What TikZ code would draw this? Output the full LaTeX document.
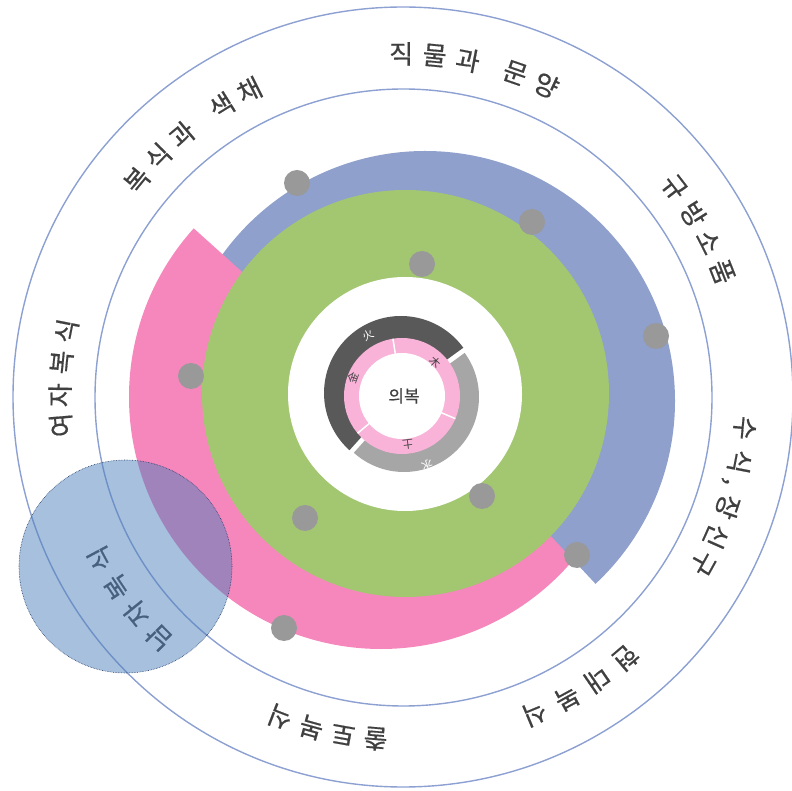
\documentclass[tikz,border=0pt]{standalone}
\usepackage{fontspec}
\setmainfont{Noto Sans CJK KR}
\newfontfamily\heavyk[FakeBold=0.6]{Noto Sans CJK KR}
\usetikzlibrary{calc}
\definecolor{ringlinec}{RGB}{140,160,210}
\definecolor{bandblue}{RGB}{142,160,203}
\definecolor{bandpink}{RGB}{245,135,188}
\definecolor{bandgreen}{RGB}{163,199,113}
\definecolor{lightpink}{RGB}{249,178,216}
\definecolor{darkgrey}{RGB}{89,89,89}
\definecolor{midgrey}{RGB}{166,166,166}
\definecolor{dotgrey}{RGB}{153,153,153}
\definecolor{txt}{RGB}{64,64,64}
\definecolor{overlayc}{RGB}{79,129,189}
\definecolor{overlayline}{RGB}{31,56,100}
\newcommand\ringchar[4][343]{\node[ringtxt, rotate=#2-90] (#4) at ([shift={(#2:#1)}]O) {#3};}
\begin{document}
\begin{tikzpicture}[x=1pt,y=1pt,
  ringtxt/.style={font=\heavyk\fontsize{26}{26}\selectfont, text=txt, inner sep=0pt},
  smalltxt/.style={font=\fontsize{11}{11}\selectfont, inner sep=0pt},
  dotc/.style={circle, fill=dotgrey, minimum size=26pt, inner sep=0pt},
  ringstroke/.style={draw=ringlinec, line width=1.4pt}]
\useasboundingbox (0,0) rectangle (792,790);
\coordinate (O) at (403,393);
\coordinate (B) at (425,389);
\coordinate (P) at (381,393);
\coordinate (G) at (405.5,396.5);
\coordinate (W) at (405,396);
\coordinate (C) at (402,394);
\coordinate (D) at (401,397);
\coordinate (E) at (404,393);
% rings
\draw[ringstroke] (O) circle[radius=390];
\draw[ringstroke] (403.5,392.5) circle[radius=308.5];
% bands
\fill[bandblue] (B) -- ([shift={(150:250)}]B) arc[start angle=150,end angle=90,radius=250] -- cycle;
\fill[bandpink] (P) -- ([shift={(138:252)}]P) arc[start angle=138,end angle=340,radius=252] -- cycle;
\fill[bandblue] (B) -- ([shift={(90:250)}]B) arc[start angle=90,end angle=-47,radius=250] -- cycle;
\fill[bandgreen] (G) circle[radius=203.5];
\fill[white] (W) circle[radius=117];
% inner arcs
\fill[darkgrey] ([shift={(36:77)}]D) arc[start angle=36,end angle=228,radius=77] -- ([shift={(228:50)}]D) arc[start angle=228,end angle=36,radius=50] -- cycle;
\fill[midgrey] ([shift={(228:75)}]E) arc[start angle=228,end angle=396,radius=75] -- ([shift={(396:50)}]E) arc[start angle=396,end angle=228,radius=50] -- cycle;
\fill[lightpink] (C) circle[radius=58];
\foreach \a in {99,-23,220}{\draw[white, line width=1.5pt] ([shift={(\a:42)}]C) -- ([shift={(\a:58)}]C);}
\fill[white] (C) circle[radius=43];
\node[font=\heavyk\fontsize{17}{17}\selectfont, text=txt, inner sep=0pt] (center) at (404,394) {의복};
\node[smalltxt, text=white, rotate=29] (fire) at (368,455) {火};
\node[smalltxt, text=txt, rotate=70] (metal) at (353,412) {金};
\node[smalltxt, text=txt, rotate=-44] (wood) at (435,428) {木};
\node[smalltxt, text=txt, rotate=-173] (earth) at (408,345) {土};
\node[smalltxt, text=white, rotate=-160] (water) at (427,325) {水};
% dots
\node[dotc] (d1) at (297,607) {};
\node[dotc] (d2) at (532,568) {};
\node[dotc] (d3) at (422,526) {};
\node[dotc] (d4) at (656,454) {};
\node[dotc] (d5) at (191,414) {};
\node[dotc] (d6) at (482,294) {};
\node[dotc] (d7) at (305,272) {};
\node[dotc] (d8) at (577,235) {};
\node[dotc] (d9) at (284,162) {};
% ring labels
\ringchar{90.3}{직}{a1}\ringchar{84.7}{물}{a2}\ringchar{79.1}{과}{a3}\ringchar{70.9}{문}{a4}\ringchar{65.3}{양}{a5}
\ringchar{37.7}{규}{b1}\ringchar{32.2}{방}{b2}\ringchar{26.9}{소}{b3}\ringchar{21.4}{품}{b4}
\ringchar{-5.2}{수}{c1}\ringchar{-10.9}{식}{c2}\ringchar[333]{-14.6}{,}{c3}\ringchar{-18.7}{장}{c4}\ringchar{-24.0}{신}{c5}\ringchar{-29.0}{구}{c6}
\ringchar{-49.5}{현}{e1}\ringchar{-55.5}{대}{e2}\ringchar{-61.4}{복}{e3}\ringchar{-67.4}{식}{e4}
\ringchar{265.4}{출}{f1}\ringchar{259.9}{토}{f2}\ringchar{254.5}{복}{f3}\ringchar{249.0}{식}{f4}
\ringchar{224.6}{남}{g1}\ringchar{219.1}{자}{g2}\ringchar{213.6}{복}{g3}\ringchar{208.1}{식}{g4}
\ringchar{184.7}{여}{h1}\ringchar{179.7}{자}{h2}\ringchar{174.2}{복}{h3}\ringchar{168.9}{식}{h4}
\ringchar{140.8}{복}{k1}\ringchar{135.5}{식}{k2}\ringchar{130.1}{과}{k3}\ringchar{121.9}{색}{k4}\ringchar{116.6}{채}{k5}
% overlay circle
\draw[overlayline, densely dotted, line width=0.6pt, fill=overlayc, fill opacity=0.5] (125.5,223.5) circle[radius=106.5];
\end{tikzpicture}
\end{document}
